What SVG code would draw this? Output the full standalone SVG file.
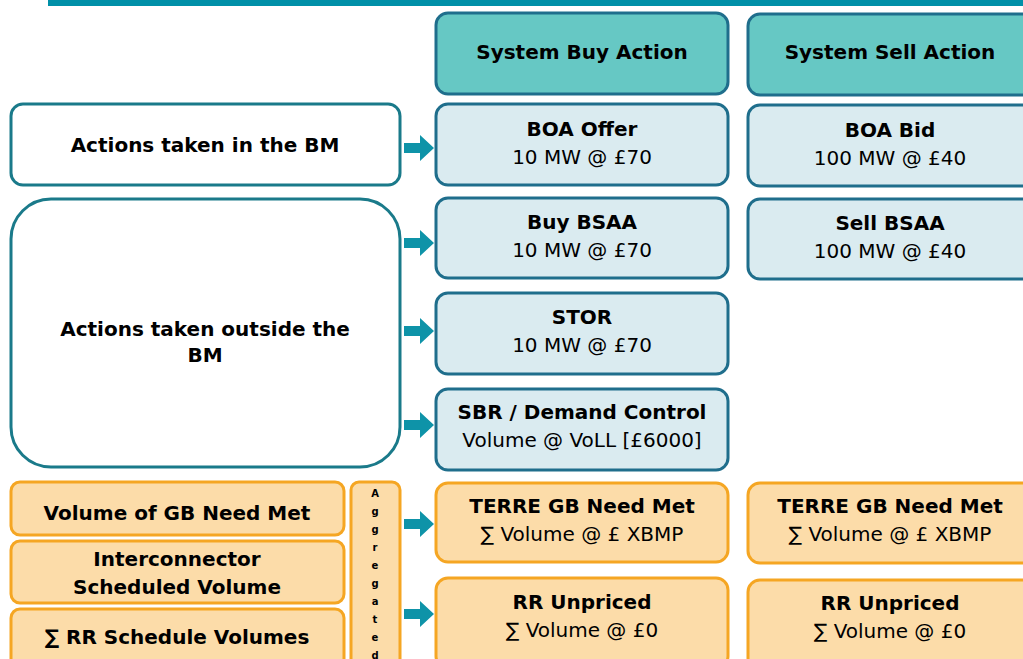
<svg xmlns="http://www.w3.org/2000/svg" width="1023" height="659" viewBox="0 0 1023 659">
<style>
text{font-family:"DejaVu Sans","Verdana",sans-serif;text-anchor:middle;fill:#000}
.b{font-weight:bold;font-size:20px}
.r{font-size:20px}
.ag{font-weight:bold;font-size:10px}
.hd{fill:#66C8C4;stroke:#1F6E8C;stroke-width:3}
.bl{fill:#DAEBF0;stroke:#1F6E8C;stroke-width:3}
.wh{fill:#FFFFFF;stroke:#1A7A8A;stroke-width:3}
.or{fill:#FCDCA9;stroke:#F5A623;stroke-width:3}
.ar{fill:#0E93A8}
</style>
<defs>
<path id="arr" d="M0,-5 H16 V-13 L30,0 L16,13 V5 H0 Z"/>
</defs>
<rect x="48" y="0" width="975" height="6" fill="#0090A8"/>

<g id="hdr-buy"><rect class="hd" x="436" y="13" width="292" height="81" rx="12"/><text class="b" x="582" y="59">System Buy Action</text></g>
<g id="hdr-sell"><rect class="hd" x="748" y="14" width="292" height="81" rx="12"/><text class="b" x="890" y="59">System Sell Action</text></g>

<g id="in-bm"><rect class="wh" x="11" y="104" width="389" height="81" rx="12"/><text class="b" x="205" y="152">Actions taken in the BM</text></g>
<g id="out-bm"><rect class="wh" x="11" y="199" width="389" height="268" rx="40"/><text class="b" x="205" y="336">Actions taken outside the</text><text class="b" x="205" y="362">BM</text></g>

<g id="boa-offer"><rect class="bl" x="436" y="104" width="292" height="81" rx="12"/><text class="b" x="582" y="136">BOA Offer</text><text class="r" x="582" y="164">10 MW @ £70</text></g>
<g id="boa-bid"><rect class="bl" x="748" y="105" width="292" height="81" rx="12"/><text class="b" x="890" y="137">BOA Bid</text><text class="r" x="890" y="165">100 MW @ £40</text></g>
<g id="buy-bsaa"><rect class="bl" x="436" y="198" width="292" height="80" rx="12"/><text class="b" x="582" y="229">Buy BSAA</text><text class="r" x="582" y="257">10 MW @ £70</text></g>
<g id="sell-bsaa"><rect class="bl" x="748" y="199" width="292" height="80" rx="12"/><text class="b" x="890" y="230">Sell BSAA</text><text class="r" x="890" y="258">100 MW @ £40</text></g>
<g id="stor"><rect class="bl" x="436" y="293" width="292" height="81" rx="12"/><text class="b" x="582" y="324">STOR</text><text class="r" x="582" y="352">10 MW @ £70</text></g>
<g id="sbr"><rect class="bl" x="436" y="389" width="292" height="81" rx="12"/><text class="b" x="582" y="419">SBR / Demand Control</text><text class="r" x="582" y="447">Volume @ VoLL [£6000]</text></g>

<g id="gb-need"><rect class="or" x="11" y="482" width="333" height="53" rx="9"/><text class="b" x="177" y="520">Volume of GB Need Met</text></g>
<g id="interconnector"><rect class="or" x="11" y="541" width="333" height="62" rx="9"/><text class="b" x="177" y="566">Interconnector</text><text class="b" x="177" y="594">Scheduled Volume</text></g>
<g id="rr-sched"><rect class="or" x="11" y="609" width="333" height="60" rx="9"/><text class="b" x="177" y="644">∑ RR Schedule Volumes</text></g>
<g id="aggregated"><rect class="or" x="351" y="482" width="49" height="190" rx="8"/>
<text class="ag" x="375" y="497">A</text><text class="ag" x="375" y="515">g</text><text class="ag" x="375" y="533">g</text><text class="ag" x="375" y="551">r</text><text class="ag" x="375" y="569">e</text><text class="ag" x="375" y="587">g</text><text class="ag" x="375" y="605">a</text><text class="ag" x="375" y="623">t</text><text class="ag" x="375" y="641">e</text><text class="ag" x="375" y="659">d</text></g>

<g id="terre-buy"><rect class="or" x="436" y="483" width="292" height="79" rx="12"/><text class="b" x="582" y="513">TERRE GB Need Met</text><text class="r" x="582" y="541">∑ Volume @ £ XBMP</text></g>
<g id="terre-sell"><rect class="or" x="748" y="483" width="292" height="80" rx="12"/><text class="b" x="890" y="513">TERRE GB Need Met</text><text class="r" x="890" y="541">∑ Volume @ £ XBMP</text></g>
<g id="rr-buy"><rect class="or" x="436" y="578" width="292" height="90" rx="12"/><text class="b" x="582" y="609">RR Unpriced</text><text class="r" x="582" y="637">∑ Volume @ £0</text></g>
<g id="rr-sell"><rect class="or" x="748" y="580" width="292" height="90" rx="12"/><text class="b" x="890" y="610">RR Unpriced</text><text class="r" x="890" y="638">∑ Volume @ £0</text></g>

<g id="connectors">
<use href="#arr" class="ar" x="404" y="148"/>
<use href="#arr" class="ar" x="404" y="243"/>
<use href="#arr" class="ar" x="404" y="331"/>
<use href="#arr" class="ar" x="404" y="425"/>
<use href="#arr" class="ar" x="404" y="524"/>
<use href="#arr" class="ar" x="404" y="614"/>
</g>
</svg>
